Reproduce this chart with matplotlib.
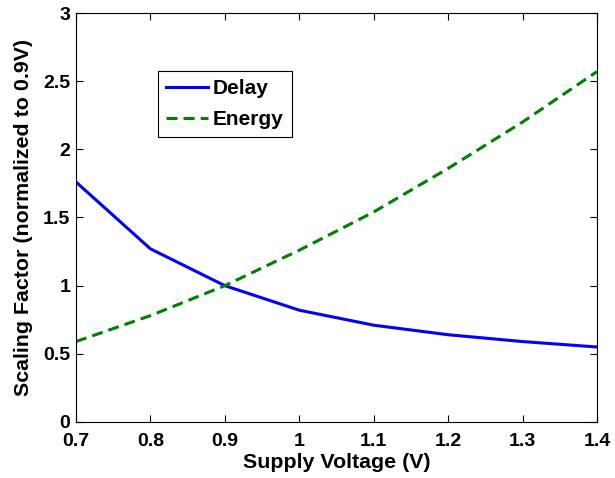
import matplotlib
matplotlib.use("Agg")
import matplotlib.pyplot as plt

voltage = [0.7, 0.8, 0.9, 1.0, 1.1, 1.2, 1.3, 1.4]
delay = [1.76, 1.27, 1.00, 0.82, 0.71, 0.64, 0.59, 0.55]
energy = [0.59, 0.78, 1.00, 1.26, 1.54, 1.86, 2.20, 2.57]
xticks = [0.7, 0.8, 0.9, 1.0, 1.1, 1.2, 1.3, 1.4]
xticklabels = ["0.7", "0.8", "0.9", "1", "1.1", "1.2", "1.3", "1.4"]
yticks = [0, 0.5, 1, 1.5, 2, 2.5, 3]
yticklabels = ["0", "0.5", "1", "1.5", "2", "2.5", "3"]

plt.rcParams['font.family'] = ['Liberation Sans', 'DejaVu Sans']
plt.rcParams['font.weight'] = 'bold'

fig = plt.figure(figsize=(6.15, 4.78), dpi=100)
ax = fig.add_axes([0.1236, 0.1172, 0.847, 0.8556])
ax.plot(voltage, delay, color='#0000ff', lw=2.2, label='Delay')
ax.plot(voltage, energy, color='#008000', lw=2.2, ls=(0, (3.6, 2.0)), label='Energy')
ax.set_xlim(0.7, 1.4)
ax.set_ylim(0, 3)
ax.set_xticks(xticks)
ax.set_xticklabels(xticklabels)
ax.set_yticks(yticks)
ax.set_yticklabels(yticklabels)
ax.tick_params(direction='in', length=5, width=0.8, top=True, right=True, labelsize=14)
ax.tick_params(axis='x', pad=8)
ax.tick_params(axis='y', pad=4)
for lab in ax.get_xticklabels() + ax.get_yticklabels():
    lab.set_fontweight('bold')
ax.set_xlabel('Supply Voltage (V)', fontsize=15.4, fontweight='bold', labelpad=2)
ax.set_ylabel('Scaling Factor (normalized to 0.9V)', fontsize=15.4, fontweight='bold', labelpad=7)
for s in ax.spines.values():
    s.set_linewidth(0.8)
leg = ax.legend(loc='upper left', bbox_to_anchor=(0.157, 0.858), fancybox=False, edgecolor='black',
                framealpha=1, prop={'size': 15, 'weight': 'bold'}, handlelength=2.0, borderpad=0.4,
                labelspacing=0.55, handletextpad=0.25, borderaxespad=0)
leg.get_frame().set_linewidth(0.8)
fig.savefig('out.png', dpi=100)
